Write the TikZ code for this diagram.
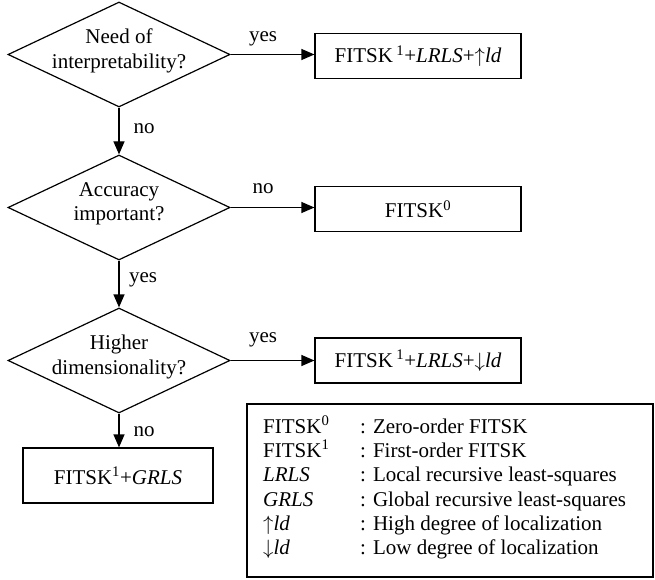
\documentclass[tikz,border=0pt]{standalone}
\usepackage{fontspec}
\setmainfont{Liberation Serif}
\usetikzlibrary{shapes.geometric,arrows.meta}
\newcommand{\upar}{$\uparrow$}
\newcommand{\dnar}{$\downarrow$}
\begin{document}
\begin{tikzpicture}[x=1pt,y=-1pt,
  font=\fontsize{21}{24.5}\selectfont,
  dec/.style={diamond, draw, line width=1.2pt, minimum width=222pt, minimum height=105pt, inner sep=0pt},
  dectext/.style={align=center, inner sep=0pt},
  res/.style={rectangle, draw, line width=1.2pt, minimum width=206pt, minimum height=45pt, inner sep=0pt},
  arr/.style={line width=1.2pt, -{Triangle[length=13pt,width=11pt]}},
  lab/.style={inner sep=0pt}]
\useasboundingbox (0,0) rectangle (655,580);

% decisions
\node[dec] (d1) at (119,54.5) {};
\node[dectext] (t1) at ([yshift=3.5pt]d1.center) {Need of\\interpretability?};
\node[dec] (d2) at (119,207.5) {};
\node[dectext] (t2) at ([yshift=3.5pt]d2.center) {Accuracy\\important?};
\node[dec] (d3) at (119,360.5) {};
\node[dectext] (t3) at ([yshift=3.5pt]d3.center) {Higher\\dimensionality?};

% results
\node[res] (r1) at (418,56) {FITSK\,\textsuperscript{1}+\textit{LRLS}+\upar\textit{ld}};
\node[res] (r2) at (418,209) {FITSK\textsuperscript{0}};
\node[res] (r3) at (418,360.5) {FITSK\,\textsuperscript{1}+\textit{LRLS}+\dnar\textit{ld}};
\node[res, minimum width=190pt, minimum height=55pt] (r4) at (118,475.5) {FITSK\textsuperscript{1}+\textit{GRLS}};

% connectors
\draw[arr] (d1.east) -- (d1.east -| r1.west);
\draw[arr] (d2.east) -- (d2.east -| r2.west);
\draw[arr] (d3.east) -- (d3.east -| r3.west);
\draw[arr] (d1.south) -- (d2.north);
\draw[arr] (d2.south) -- (d3.north);
\draw[arr] (d3.south) -- (d3.south |- r4.north);

% labels
\node[lab] (l1) at (263,39) {yes};
\node[lab] (l2) at (144,129) {no};
\node[lab] (l3) at (263,189) {no};
\node[lab] (l4) at (143,280) {yes};
\node[lab] (l5) at (263,340) {yes};
\node[lab] (l6) at (144,432) {no};

% legend
\node[draw, line width=1.2pt, minimum width=406pt, minimum height=173pt, inner sep=0pt] (leg) at (450,490.5) {};
\node[anchor=base west, inner sep=0pt] (legtxt) at (263,433) {%
\renewcommand{\arraystretch}{0.99}%
\begin{tabular}[t]{@{}p{97pt}@{}l@{}}
FITSK\textsuperscript{0} & : Zero-order FITSK\\
FITSK\textsuperscript{1} & : First-order FITSK\\
\textit{LRLS} & : Local recursive least-squares\\
\textit{GRLS} & : Global recursive least-squares\\
\upar\textit{ld} & : High degree of localization\\
\dnar\textit{ld} & : Low degree of localization
\end{tabular}};
\end{tikzpicture}
\end{document}
